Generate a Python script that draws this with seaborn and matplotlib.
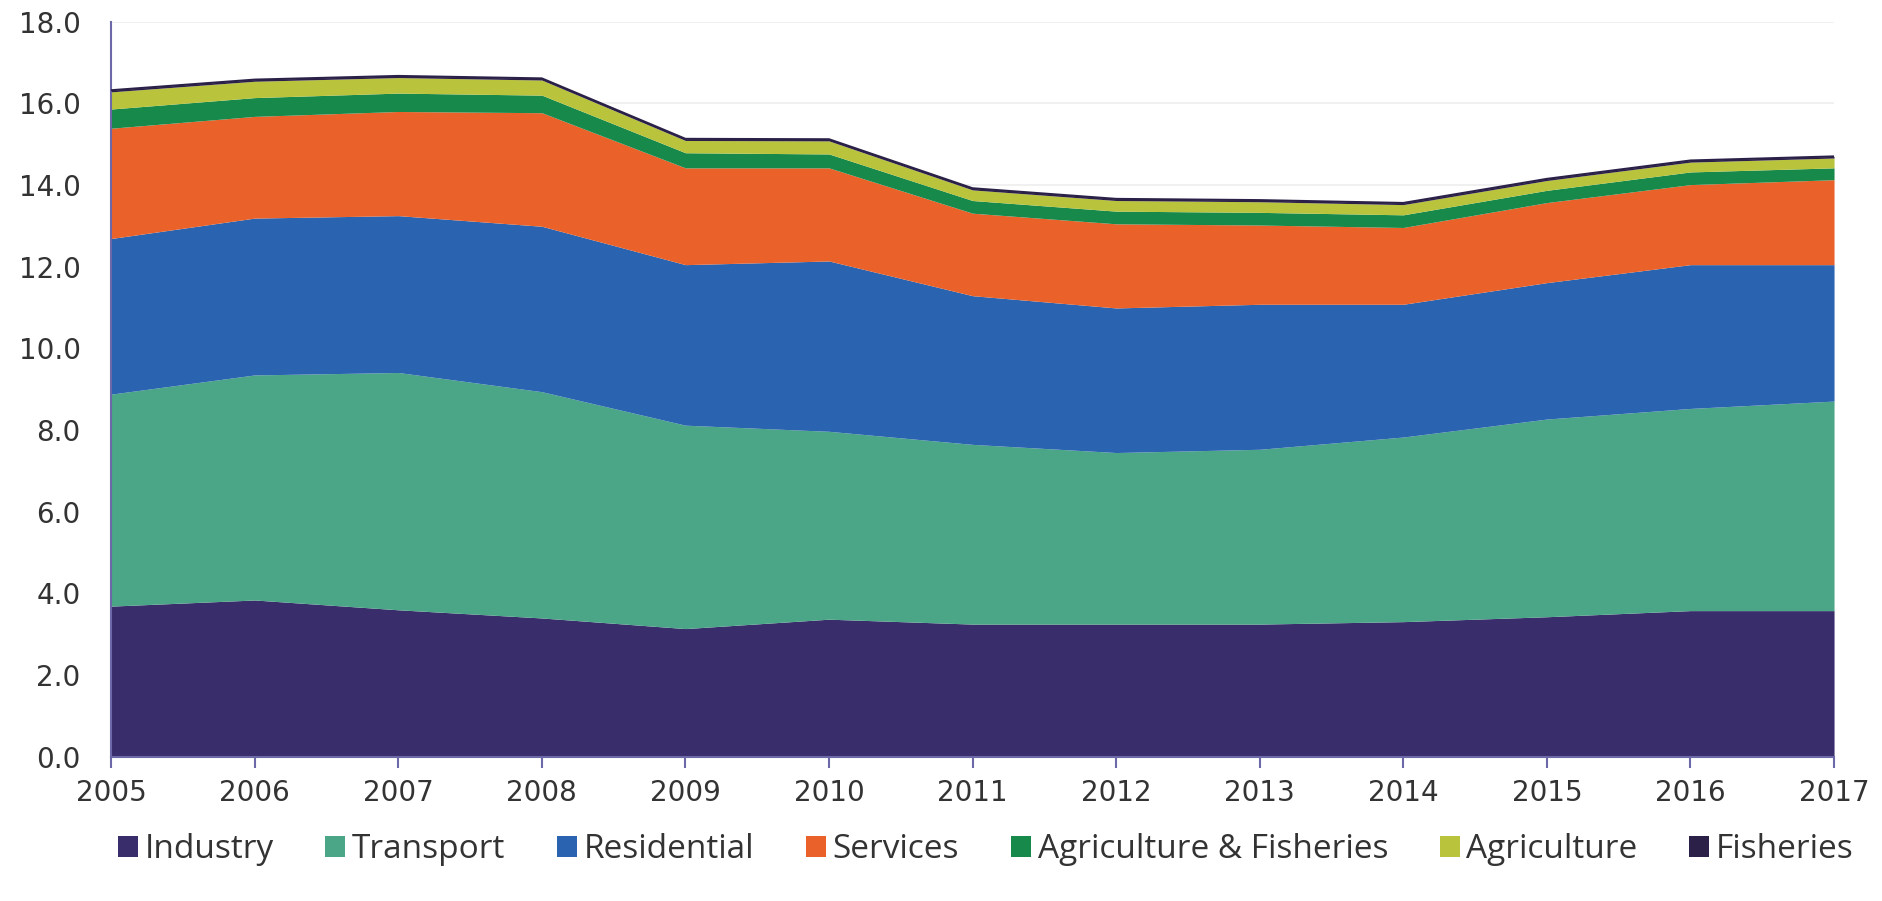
import matplotlib
matplotlib.use("Agg")
import matplotlib.pyplot as plt
import seaborn as sns
import numpy as np
import pandas as pd
from matplotlib.patches import Patch
from matplotlib import font_manager

years = [2005, 2006, 2007, 2008, 2009, 2010, 2011, 2012, 2013, 2014, 2015, 2016, 2017]
industry = [3.69, 3.84, 3.60, 3.40, 3.14, 3.37, 3.25, 3.25, 3.25, 3.31, 3.43, 3.58, 3.58]
transport = [5.19, 5.51, 5.81, 5.54, 4.98, 4.60, 4.40, 4.20, 4.28, 4.52, 4.84, 4.95, 5.13]
residential = [3.81, 3.84, 3.84, 4.05, 3.93, 4.17, 3.64, 3.54, 3.55, 3.25, 3.34, 3.52, 3.34]
services = [2.70, 2.49, 2.55, 2.78, 2.37, 2.28, 2.02, 2.06, 1.94, 1.88, 1.96, 1.96, 2.08]
agri_fish = [0.47, 0.46, 0.45, 0.43, 0.37, 0.34, 0.31, 0.31, 0.31, 0.31, 0.30, 0.31, 0.29]
agriculture = [0.42, 0.40, 0.38, 0.37, 0.30, 0.32, 0.26, 0.26, 0.26, 0.25, 0.24, 0.24, 0.24]
fisheries = [0.04, 0.04, 0.04, 0.04, 0.04, 0.04, 0.04, 0.04, 0.04, 0.04, 0.04, 0.04, 0.04]

labels = ["Industry", "Transport", "Residential", "Services",
          "Agriculture & Fisheries", "Agriculture", "Fisheries"]
colors = ["#3a2d6c", "#4aa686", "#2a63b0", "#ea622a", "#17894b", "#b9c43c", "#2b2148"]

df = pd.DataFrame({"year": years, "Industry": industry, "Transport": transport,
                   "Residential": residential, "Services": services,
                   "Agriculture & Fisheries": agri_fish, "Agriculture": agriculture,
                   "Fisheries": fisheries})

sns.set_theme(style="white")
plt.rcParams["font.family"] = ["DejaVu Sans"]

available = {f.name for f in font_manager.fontManager.ttflist}
legend_family = "Liberation Sans Narrow" if "Liberation Sans Narrow" in available else "Open Sans"

fig = plt.figure(figsize=(18.83, 9.01), dpi=100)
ax = fig.add_axes([0.059, 0.16, 0.915, 0.816])

ax.stackplot(df["year"], [df[l] for l in labels], colors=colors, linewidth=0, zorder=2)
total = df[labels].sum(axis=1)
sns.lineplot(x=df["year"], y=total, ax=ax, color="#2b2148", linewidth=1.5, zorder=3)

ax.set_xlim(2005, 2017)
ax.set_ylim(0, 18)
ax.set_yticks(np.arange(0, 18.01, 2))
ax.set_yticklabels([f"{v:.1f}" for v in np.arange(0, 18.01, 2)])
ax.set_xticks(years)
ax.set_xticklabels([str(y) for y in years])
ax.set_xlabel("")
ax.set_ylabel("")
ax.yaxis.grid(True, color="#ededed", linewidth=1.2, zorder=0)
ax.set_axisbelow(True)

for s in ["top", "right"]:
    ax.spines[s].set_visible(False)
ax.spines["left"].set_color("#6d68a8")
ax.spines["bottom"].set_color("#6d68a8")
ax.spines["left"].set_linewidth(1.5)
ax.spines["bottom"].set_linewidth(1.5)

ax.tick_params(axis="x", which="both", bottom=True, length=8, width=1.5,
               color="#6d68a8", direction="out", labelsize=20, labelcolor="#333333", pad=8)
ax.tick_params(axis="y", left=False, labelsize=20, labelcolor="#333333", pad=16)

handles = [Patch(facecolor=c, edgecolor="none", label=l) for c, l in zip(colors, labels)]
fig.legend(handles=handles, loc="center", ncol=7, frameon=False,
           bbox_to_anchor=(0.5235, 0.057), prop={"family": legend_family, "size": 24},
           handlelength=0.6, handleheight=0.6,
           handletextpad=0.2, columnspacing=1.55, labelcolor="#333333")

fig.savefig("out.png", dpi=100)
